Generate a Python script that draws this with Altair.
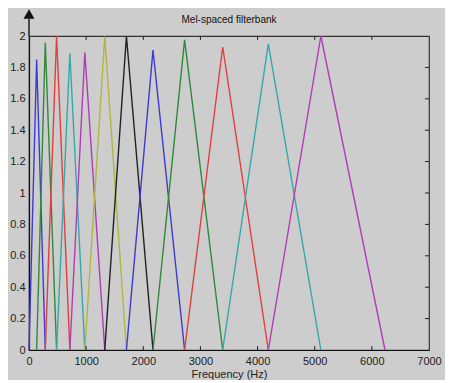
import altair as alt
import pandas as pd

# Filter centre frequencies (Hz): c[i-1] .. c[i] .. c[i+1] define filter i
centers = [0, 134, 285, 483, 715, 977, 1326, 1705, 2170, 2723, 3390, 4188, 5108, 6230]
peaks = [1.85, 1.957, 2.0, 1.89, 1.894, 1.996, 2.0, 1.91, 1.975, 1.93, 1.95, 2.0]
colors = ["#3c3cd0", "#2f8a3a", "#e2403c", "#34aaa8", "#b03cb8", "#b4b440",
          "#222222", "#3c3cd0", "#2f8a3a", "#e2403c", "#34aaa8", "#b03cb8"]
x_ticks = [0, 1000, 2000, 3000, 4000, 5000, 6000, 7000]
y_ticks = [0, 0.2, 0.4, 0.6, 0.8, 1, 1.2, 1.4, 1.6, 1.8, 2]

rows = []
for i, h in enumerate(peaks):
    f = f"f{i:02d}"
    rows.append({"f": f, "o": 0, "x": centers[i], "y": 0})
    rows.append({"f": f, "o": 1, "x": centers[i + 1], "y": h})
    rows.append({"f": f, "o": 2, "x": centers[i + 2], "y": 0})
df = pd.DataFrame(rows)
fnames = [f"f{i:02d}" for i in range(len(peaks))]

BG = "#cdcdcd"
xs = alt.Scale(domain=[0, 7000], nice=False, zero=False)
ys = alt.Scale(domain=[0, 2], nice=False, zero=False)

xaxis = alt.Axis(values=x_ticks, format="d", ticks=False, domainColor="#111",
                 domainWidth=1.2, labelFontSize=11, labelColor="#222",
                 labelPadding=5, titleFontSize=11, titleFontWeight="normal",
                 titleColor="#222", titlePadding=2, labelFont="Liberation Sans",
                 titleFont="Liberation Sans", grid=False, labelFlush=False,
                 labelOverlap=False)
yaxis = alt.Axis(values=y_ticks, format=".1~f", ticks=False, domainColor="#111",
                 domainWidth=1.2, labelFontSize=11, labelColor="#222",
                 labelPadding=4, labelFont="Liberation Sans", grid=False,
                 labelFlush=False, labelOverlap=False)
XE = alt.X("x:Q", scale=xs, title="Frequency (Hz)", axis=xaxis)
YE = alt.Y("y:Q", scale=ys, title=None, axis=yaxis)

lines = alt.Chart(df).mark_line(strokeWidth=1.4).encode(
    x=XE, y=YE,
    color=alt.Color("f:N", scale=alt.Scale(domain=fnames, range=colors), legend=None),
    order="o:Q",
)

tdf_b = pd.DataFrame({"x": x_ticks[1:-1], "y": 0, "y2": 0.025})
tdf_t = pd.DataFrame({"x": x_ticks[1:-1], "y": 2, "y2": 1.975})
tdf_r = pd.DataFrame({"y": y_ticks[1:-1], "x": 7000, "x2": 6930})
tick_b = alt.Chart(tdf_b).mark_rule(color="#222", strokeWidth=1).encode(x=XE, y=YE, y2="y2")
tick_t = alt.Chart(tdf_t).mark_rule(color="#222", strokeWidth=1).encode(x=XE, y=YE, y2="y2")
tick_r = alt.Chart(tdf_r).mark_rule(color="#222", strokeWidth=1).encode(x=XE, x2="x2", y=YE)

arrow_df = pd.DataFrame({"x": [0], "y": [2], "y2": [2.11]})
stem = alt.Chart(arrow_df).mark_rule(color="#111", strokeWidth=1.4).encode(x=XE, y=YE, y2="y2")
head_df = pd.DataFrame({"x": [0], "y": [2.14]})
head = alt.Chart(head_df).mark_point(shape="triangle-up", filled=True, color="#111",
                                     size=120, opacity=1).encode(x=XE, y=YE)

title_df = pd.DataFrame({"x": [3500], "y": [2.105], "t": ["Mel-spaced filterbank"]})
title = alt.Chart(title_df).mark_text(fontSize=10, font="Liberation Sans", color="#111",
                                      baseline="middle", align="center").encode(
    x=XE, y=YE, text="t:N")

chart = alt.layer(lines, tick_b, tick_t, tick_r, stem, head, title).properties(
    width=400, height=314, background=BG,
    padding={"left": 21, "top": 28, "right": 16, "bottom": 30},
    autosize=alt.AutoSizeParams(type="none"),
).configure_view(stroke="#333", strokeWidth=1.2, fill=BG
).configure_axisY(labelOverlap=False)

chart.save("out.html", embed_options={"renderer": "svg", "actions": False})
